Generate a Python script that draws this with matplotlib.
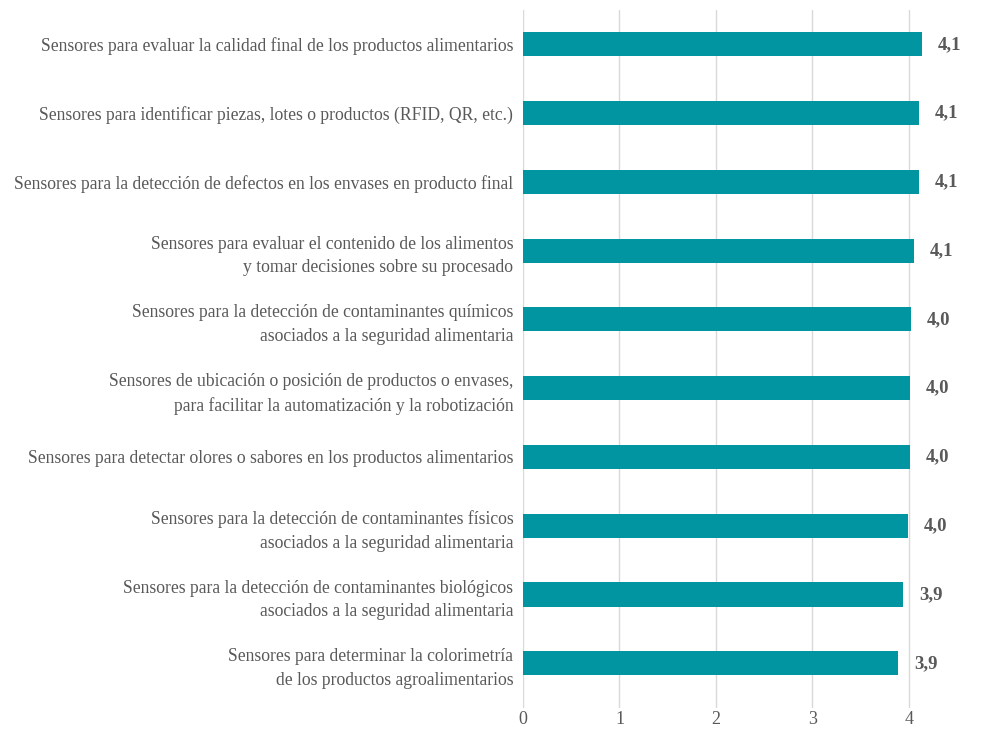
import matplotlib
matplotlib.use("Agg")
import matplotlib.pyplot as plt

categories = [
    "Sensores para evaluar la calidad final de los productos alimentarios",
    "Sensores para identificar piezas, lotes o productos (RFID, QR, etc.)",
    "Sensores para la detección de defectos en los envases en producto final",
    "Sensores para evaluar el contenido de los alimentos\ny tomar decisiones sobre su procesado",
    "Sensores para la detección de contaminantes químicos\nasociados a la seguridad alimentaria",
    "Sensores de ubicación o posición de productos o envases,\npara facilitar la automatización y la robotización",
    "Sensores para detectar olores o sabores en los productos alimentarios",
    "Sensores para la detección de contaminantes físicos\nasociados a la seguridad alimentaria",
    "Sensores para la detección de contaminantes biológicos\nasociados a la seguridad alimentaria",
    "Sensores para determinar la colorimetría\nde los productos agroalimentarios",
]
values = [4.13, 4.10, 4.10, 4.05, 4.02, 4.01, 4.01, 3.99, 3.94, 3.89]
value_labels = ["4,1", "4,1", "4,1", "4,1", "4,0", "4,0", "4,0", "4,0", "3,9", "3,9"]
x_ticks = [0, 1, 2, 3, 4, 5]

plt.rcParams['font.family'] = ['Liberation Serif', 'DejaVu Serif']

fig = plt.figure(figsize=(10.03, 7.29), dpi=100)
W, H = 1003, 729
left = 523 / W
width = 5 * 96.5 / W
bottom = (729 - 708) / H
top_px = 10
height = (708 - top_px) / H
ax = fig.add_axes([left, bottom, width, height])

y = list(range(len(categories)))
ax.barh(y, values, height=0.35, color='#0095A0', zorder=3)
ax.set_ylim(len(categories) - 0.35, -0.5)
ax.set_xlim(0, 5)
ax.set_xticks(x_ticks)
ax.set_xticklabels([str(t) for t in x_ticks])
ax.set_yticks(y)
ax.set_yticklabels(categories, fontsize=12.7, color='#595959', linespacing=1.5)
ax.tick_params(axis='y', length=0, pad=7)
ax.tick_params(axis='x', length=0, pad=2, labelsize=13, labelcolor='#595959')
ax.grid(axis='x', color='#D9D9D9', linewidth=1, zorder=0)
for s in ax.spines.values():
    s.set_visible(False)

for yi, v, lab in zip(y, values, value_labels):
    ax.annotate(lab, (v, yi), xytext=(16, 0), textcoords='offset pixels',
                ha='left', va='center', fontsize=13.5, fontweight='bold', color='#595959')

fig.savefig('out.png', dpi=100)
